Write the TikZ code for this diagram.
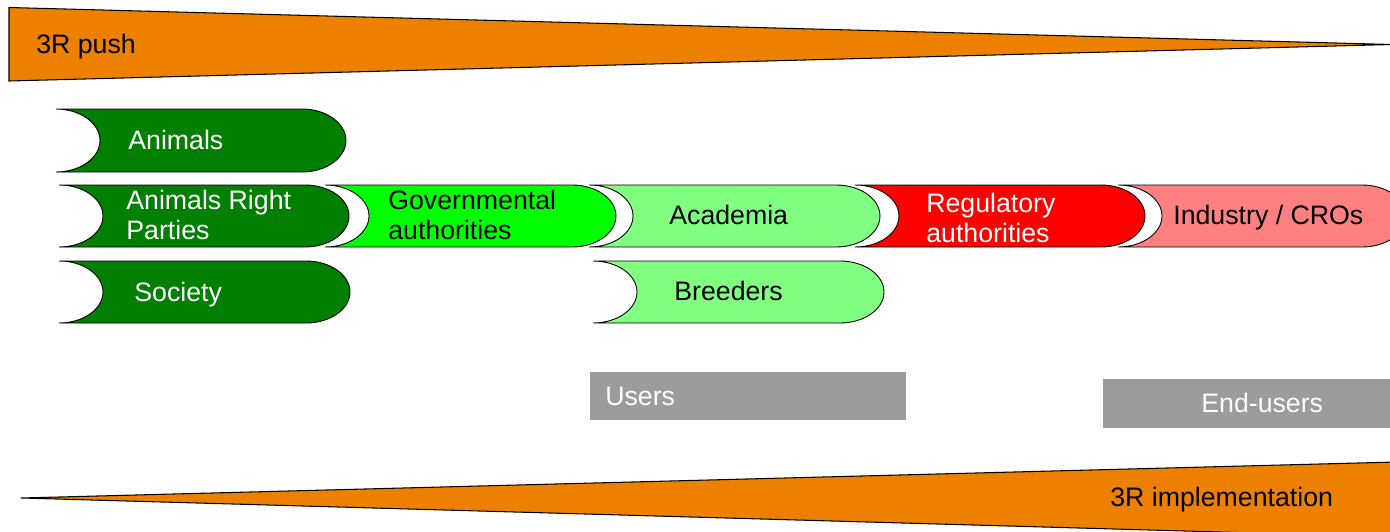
\documentclass[tikz,border=0pt]{standalone}
\usepackage{fontspec}
\setmainfont{Liberation Sans}
\usetikzlibrary{positioning}
\definecolor{cPush}{HTML}{EE8000}
\definecolor{cSociety}{HTML}{007F00}
\definecolor{cGov}{HTML}{00FF00}
\definecolor{cUser}{HTML}{80FF80}
\definecolor{cReg}{HTML}{FF0000}
\definecolor{cInd}{HTML}{FF8080}
\definecolor{cGrey}{HTML}{9C9C9C}

% rounded arrow-like band: left, top, bottom, right, fill
\newcommand\chevron[5]{%
  \draw[chev, fill=#5] (#1,#2) -- ({#4-44},#2)
    .. controls ({#4-19.7},#2) and (#4,{(#2+#3)/2-17.1}) .. (#4,{(#2+#3)/2})
    .. controls (#4,{(#2+#3)/2+17.1}) and ({#4-19.7},#3) .. ({#4-44},#3)
    -- (#1,#3)
    .. controls ({#1+24.3},#3) and ({#1+44},{(#2+#3)/2+17.1}) .. ({#1+44},{(#2+#3)/2})
    .. controls ({#1+44},{(#2+#3)/2-17.1}) and ({#1+24.3},#2) .. (#1,#2) -- cycle;}

\begin{document}
\begin{tikzpicture}[x=0.02cm, y=-0.02cm,
    chev/.style={draw=black, line width=0.5pt},
    wedge/.style={draw=black, line width=0.6pt, fill=cPush},
    txt/.style={font=\fontsize{15.2}{17}\selectfont, inner sep=0pt, align=left, anchor=west},
    wtxt/.style={txt, text=white}
]
\clip (0,0) rectangle (1390,531);

% the two pushes
\draw[wedge] (9,7.5) -- (1392,44.5) -- (9,81) -- cycle;
\draw[wedge] (21,498) -- (1396,462) -- (1396,537) -- cycle;

% stakeholders
\chevron{56}{109}{172}{346}{cSociety}
\chevron{59}{185}{247}{349}{cSociety}
\chevron{59}{261}{323}{350}{cSociety}
\chevron{325}{185}{247}{616}{cGov}
\chevron{589}{185}{247}{880}{cUser}
\chevron{593}{261}{323}{884}{cUser}
\chevron{855}{185}{247}{1145}{cReg}
\chevron{1118}{185}{247}{1406}{cInd}

% user groups
\fill[cGrey] (590,372) rectangle (906,420);
\fill[cGrey] (1103,379) rectangle (1390,428);

\node[txt] (push) at (36,47) {3R push};
\node[txt] (impl) at (1110,500) {3R implementation};

\node[wtxt] (animals) at (128,140) {Animals};
\node[wtxt] (rights) at (126,215) {Animals Right\\Parties};
\node[wtxt] (society) at (134,295) {Society};
\node[txt] (gov) at (388,215) {Governmental\\authorities};
\node[txt] (academia) at (669,215) {Academia};
\node[txt] (breeders) at (674,291) {Breeders};
\node[wtxt] (regul) at (926,218) {Regulatory\\authorities};
\node[txt] (industry) at (1173,218) {Industry / CROs};

\node[wtxt] (users) at (605,396) {Users};
\node[wtxt] (endusers) at (1201,403) {End-users};

\end{tikzpicture}
\end{document}
